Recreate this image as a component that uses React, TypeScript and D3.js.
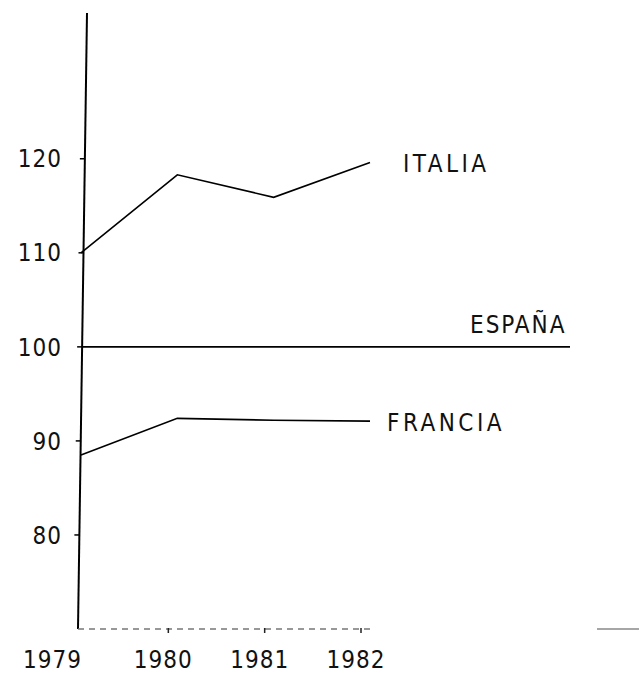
import * as d3 from "d3"

const years = [1979, 1980, 1981, 1982]
const italia = [110, 118.3, 115.9, 119.6]
const francia = [88.5, 92.4, 92.2, 92.1]
const espana = 100
const yTicks = [80, 90, 100, 110, 120]

const width = 639
const height = 681
const font = "'DejaVu Sans Condensed', 'DejaVu Sans', sans-serif"

export default function App() {
  const x = d3.scaleLinear().domain([1979, 1982]).range([81, 370])
  const y = d3.scaleLinear().domain([70, 135.5]).range([629, 13])

  const line = d3
    .line<number>()
    .x((_, i) => x(years[i]))
    .y((d) => y(d))

  const axisTop = { x: 87, y: y(135.5) }
  const axisBottom = { x: 78, y: y(70) }
  // the hand-drawn axis leans a little; find its x at a given y
  const axisX = (py: number) =>
    axisTop.x + ((py - axisTop.y) / (axisBottom.y - axisTop.y)) * (axisBottom.x - axisTop.x)

  return (
    <svg
      width={width}
      height={height}
      style={{ position: "absolute", left: 0, top: 0, background: "#fff" }}
    >
      {/* y axis */}
      <line
        x1={axisTop.x}
        y1={axisTop.y}
        x2={axisBottom.x}
        y2={axisBottom.y}
        stroke="#000"
        strokeWidth={2}
      />
      {yTicks.map((t) => (
        <g key={t}>
          <line
            x1={axisX(y(t)) - 5}
            x2={axisX(y(t))}
            y1={y(t)}
            y2={y(t)}
            stroke="#000"
            strokeWidth={1.5}
          />
          <text
            x={62}
            y={y(t)}
            dy="0.36em"
            textAnchor="end"
            fontFamily={font}
            fontSize={24}
            letterSpacing={1}
            fill="#111"
          >
            {t}
          </text>
        </g>
      ))}

      {/* x axis, faded in the original */}
      <line
        x1={axisBottom.x}
        x2={x(1982)}
        y1={y(70)}
        y2={y(70)}
        stroke="#777"
        strokeWidth={1.5}
        strokeDasharray="6 5"
      />
      <line x1={597} x2={639} y1={y(70)} y2={y(70)} stroke="#888" strokeWidth={1.5} />
      {years.slice(1).map((yr) => (
        <line
          key={yr}
          x1={x(yr) - 9}
          x2={x(yr) - 9}
          y1={y(70) - 1}
          y2={y(70) + 4}
          stroke="#222"
          strokeWidth={1.5}
        />
      ))}
      {years.map((yr, i) => (
        <text
          key={yr}
          x={i === 0 ? axisBottom.x + 4 : x(yr) - 14}
          y={y(70) + 39}
          textAnchor={i === 0 ? "end" : "middle"}
          fontFamily={font}
          fontSize={24}
          letterSpacing={1}
          fill="#111"
        >
          {yr}
        </text>
      ))}

      {/* series */}
      <path d={line(italia) ?? ""} fill="none" stroke="#000" strokeWidth={1.6} />
      <path d={line(francia) ?? ""} fill="none" stroke="#000" strokeWidth={1.6} />
      <line
        x1={axisX(y(espana))}
        x2={570}
        y1={y(espana)}
        y2={y(espana)}
        stroke="#000"
        strokeWidth={1.6}
      />

      <text x={403} y={172} fontFamily={font} fontSize={24} letterSpacing={3.5} fill="#111">
        ITALIA
      </text>
      <text x={470} y={333} fontFamily={font} fontSize={24} letterSpacing={2} fill="#111">
        ESPAÑA
      </text>
      <text x={387} y={431} fontFamily={font} fontSize={24} letterSpacing={3.5} fill="#111">
        FRANCIA
      </text>
    </svg>
  )
}
